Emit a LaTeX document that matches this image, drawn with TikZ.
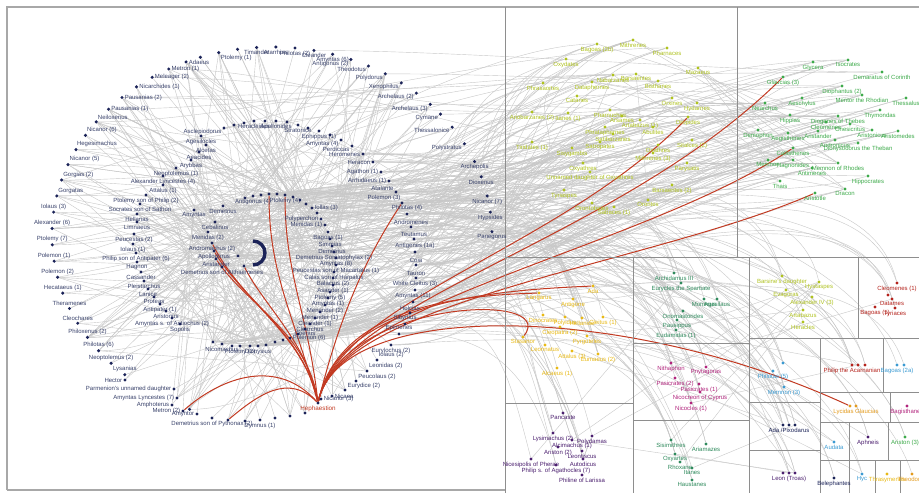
\documentclass[tikz,border=0pt]{standalone}
\usepackage{fontspec}
\setmainfont{Liberation Sans}
\usetikzlibrary{calc}
\definecolor{navy}{HTML}{1B2358}
\definecolor{labc}{HTML}{39426B}
\definecolor{edgec}{HTML}{C8C8C8}
\definecolor{redc}{HTML}{C23A22}
\definecolor{boxc}{HTML}{8E8E8E}
\definecolor{framec}{HTML}{A8A8A8}
\definecolor{ygc}{HTML}{AFC21E}
\definecolor{gc}{HTML}{3DAA4A}
\definecolor{yoc}{HTML}{E8B915}
\definecolor{tc}{HTML}{2E8A5C}
\definecolor{mc}{HTML}{B1237C}
\definecolor{pc}{HTML}{4A1E6E}
\definecolor{rc}{HTML}{B4221B}
\definecolor{bc}{HTML}{3A9AD2}
\definecolor{oc}{HTML}{E39A1C}
\pgfdeclarelayer{bgw}
\pgfdeclarelayer{edges}
\pgfdeclarelayer{redl}
\pgfsetlayers{bgw,edges,redl,main}
\begin{document}
\begin{tikzpicture}[x=1pt,y=-1pt,
  dot/.style={circle,fill=navy,inner sep=0pt,minimum size=3.4pt},
  lab/.style={font=\fontsize{6}{7}\selectfont,text=labc,inner sep=0.3pt},
  edge/.style={draw=edgec,line width=0.4pt},
  redge/.style={draw=redc,line width=1pt},
  panel/.style={draw=boxc,line width=0.7pt},
  framel/.style={draw=framec,line width=1.2pt},
  label distance=0.4pt]
\useasboundingbox (0,0) rectangle (919,493);
\begin{pgfonlayer}{bgw}
\fill[white] (0,0) rectangle (919,493);
\end{pgfonlayer}

% ---------- panels ----------
\draw[framel] (7,490) -- (7,7) -- (919,7);
\draw[framel] (7,490) -- (505,490);
\draw[panel] (505,7) -- (505,493);
\draw[panel] (737,7) -- (737,257);
\draw[panel] (505,257) -- (919,257);
\draw[panel] (633,257) -- (633,493);
\draw[panel] (749,257) -- (749,493);
\draw[panel] (505,403) -- (633,403);
\draw[panel] (633,343) -- (749,343);
\draw[panel] (633,420) -- (749,420);
\draw[panel] (858,257) -- (858,338);
\draw[panel] (749,338) -- (919,338);
\draw[panel] (820,338) -- (820,493);
\draw[panel] (749,402) -- (820,402);
\draw[panel] (749,450) -- (820,450);
\draw[panel] (883,338) -- (883,392);
\draw[panel] (820,392) -- (919,392);
\draw[panel] (890,392) -- (890,422);
\draw[panel] (820,422) -- (919,422);
\draw[panel] (849,422) -- (849,493);
\draw[panel] (888,422) -- (888,460);
\draw[panel] (820,460) -- (919,460);
\draw[panel] (875,460) -- (875,493);
\draw[panel] (900,460) -- (900,493);

% ---------- outer ring ----------
\foreach \th/\t/\p [count=\i] in {
 1/Panegorus/270, 7/Hypsides/270, 12/{Nicanor (7)}/270, 18/Dioxenus/270, 23/Archepolis/270,
 29/Polystratus/190, 35/Thessalonice/190, 40/Cymane/200, 44/{Archelaus (3)}/200, 49/{Archelaus (2)}/200,
 54/Xenophilus/200, 59/Polydorus/200, 64/Theodotus/200, 69/{Antigonus (2)}/200, 74/{Amyntas (6)}/270,
 79/Cleander/270, 84/{Philotas (2)}/270, 89/Atarrhias/270, 94/Timander/270, 99/{}/270,
 104/{Ptolemy (1)}/315, 109/{}/270, 113/Adaeus/0, 118/{Metron (1)}/0, 123/{Meleager (2)}/0,
 128/{Nicarchides (1)}/0, 133/{Pausanias (2)}/0, 138/{Pausanias (1)}/0, 143/Neiloxenus/60, 148/{Nicanor (6)}/60,
 153/Hegesimachus/75, 158/{Nicanor (5)}/60, 163/{Gorgias (2)}/60, 168/Gorgatas/60, 173/{Iolaus (3)}/90,
 178/{Alexander (6)}/90, 183/{Ptolemy (7)}/90, 188/{Polemon (1)}/90, 193/{Polemon (2)}/90, 198/{Hecataeus (1)}/90,
 203/Theramenes/90, 208/Cleochares/90, 213/{Philoxenus (2)}/90, 218/{Philotas (6)}/90, 223/{Neoptolemus (2)}/90,
 228/Lysanias/90, 248/{}/90}
  \node[dot,label={[lab]\p:\t}] (O\i) at ({272+220*cos(\th)},{235-188*sin(\th)}) {};

% ---------- middle ring ----------
\foreach \x/\y/\t/\p [count=\i] in {
 363/154/Heromenes/180, 373/162/Heracon/180, 381/172/{Agathon (1)}/180, 389/181/{Arrhidaeus (1)}/180,
 396/192/Atalante/150, 402/203/{Polemon (3)}/120, 407/214/{Philotas (4)}/90, 411/227/Andromenes/90,
 414/239/Teutamus/90, 415/252/{Antigenes (1a)}/90, 416/265/Coia/90, 416/278/Tauron/90,
 415/290/{White Cleitus (3)}/90, 413/302/{Amyntas (11)}/90, 410/313/Holcias/90, 405/324/Sibyrtius/90,
 399/334/Epimenes/90, 391/345/{Eurylochus (2)}/270, 377/360/{Iolaus (2)}/60, 367/371/{Leonidas (2)}/45,
 356/381/{Peucolaus (2)}/30, 345/390/{Eurydice (2)}/15, 332/396/Nicaea/0, 321/399/{Nicanor (3)}/0,
 224/128/Asclepiodorus/200, 234/125/{}/90, 244/123/{}/90, 254/121/Heracleides/270, 265/121/{}/90,
 276/121/Apollonides/270, 287/122/{}/90, 298/125/Stratonice/270, 308/128/{}/90, 319/131/{Ephippus (1)}/270,
 330/135/{}/90, 341/140/{Amyntas (4)}/200, 352/146/Perdiccas/200}
  \node[dot,label={[lab]\p:\t}] (M\i) at (\x,\y) {};

\foreach \x/\y/\t [count=\i] in {
 201/136/Agesilocles, 206/145/Alcetas, 199/152/Aeacides, 191/160/Arybbas, 176/168/{Neoptolemus (1)},
 163/176/{Alexander Lyncestes (4)}, 163/185/{Attalus (1)}, 146/195/{Ptolemy son of Philip (2)},
 140/204/{Socrates son of Sathon}, 137/214/Hellanas, 137/222/Limnaeus, 134/234/{Peucestas (2)},
 133/244/{Iolaus (1)}, 136/253/{Philip son of Antipater (6)}, 137/262/Hagnon, 141/272/Cassander,
 144/281/Pleistarchus, 148/289/Lanice, 154/297/Proteas, 160/304/{Antipater (1)}, 166/311/Aristonus,
 172/318/{Amyntas s. of Antiochus (2)}, 180/324/Sopolis}
  \node[dot,label={[lab]270:\t}] (W\i) at (\x,\y) {};

% ---------- inner ring ----------
\foreach \x/\y/\t/\p [count=\i] in {
 245/198/{}/90, 253/196/{Antigonus (4)}/270, 261/195/{}/90, 269/194/{}/90, 277/194/{}/90,
 285/195/{Ptolemy (4)}/270, 293/197/{}/90, 300/200/{}/0, 306/204/{}/0, 312/208/{Iollas (3)}/0,
 317/213/{}/0, 321/219/Polyperchon/180, 325/225/{Menidas (1)}/180, 328/232/{Bagoas (1)}/270,
 330/239/Simmias/270, 332/246/Demetrius/270, 334/252/{Demetrius Somatophylax (2)}/270,
 336/258/{Amyntas (8)}/270, 336/265/{Peucestas son of Macartatus (1)}/270, 334/272/{Calas son of Harpalus}/270,
 333/278/{Balacrus (2)}/270, 333/285/{Asander (1)}/270, 330/292/{Ptolemy (5)}/270, 328/298/{Amyntas (1)}/270,
 325/305/{Menander (2)}/270, 320/312/{Menander (1)}/270, 315/318/{Cleander (1)}/270, 310/324/Clearchus/270,
 305/329/Coenus/270, 298/334/{}/270, 290/338/{Polemon (6)}/0, 283/340/{}/90, 275/342/{}/90,
 266/345/{}/90, 258/346/Dionysius/270, 250/346/{}/90, 240/346/{Ptolemy (2)}/270, 232/346/{}/90,
 222/344/Nicomachus/270, 213/342/{}/90}
  \node[dot,label={[lab]\p:\t}] (I\i) at (\x,\y) {};

\foreach \x/\y/\t [count=\i] in {
 223/206/Demetrius, 194/210/Amyntas, 215/222/Cebalinus, 208/232/{Menidas (2)}, 212/243/{Andromachus (2)},
 214/251/Apollodorus, 216/259/Aristander, 222/267/{Demetrius son of Althaemenes}, 238/256/{}, 244/266/{}}
  \node[dot,label={[lab]270:\t}] (C\i) at (\x,\y) {};

\foreach \x/\y/\t/\p [count=\i] in {
 125/380/Hector/180, 174/389/{Parmenion's unnamed daughter}/180, 177/398/{Amyntas Lyncestes (7)}/180,
 172/405/Amphoterus/180, 183/411/{Metron (2)}/180, 197/414/Amyntor/180,
 212/418/{Demetrius son of Pythonax (2)}/270, 228/420/{}/270, 245/421/{}/270, 260/420/{Dymnus (1)}/270,
 275/418/{}/270, 290/416/{}/270, 305/413/{}/270}
  \node[dot,label={[lab]\p:\t}] (B\i) at (\x,\y) {};

\draw[navy,line width=3.4pt] (253,241) arc[start angle=-90,end angle=90,radius=12];
\node[dot,label={[lab,text=redc,font=\fontsize{6.3}{7}\selectfont]270:Hephaestion}] (H) at (318,403) {};

% ---------- upper right panels ----------
\foreach \x/\y/\t/\c [count=\i] in {
 597/44/{Bagoas (2b)}/ygc, 633/40/Mithrenes/ygc, 667/48/Pharnaces/ygc, 566/59/Oxydates/ygc, 698/68/Mazaeus/ygc,
 613/75/Nabarzanes/ygc, 636/74/Barsaentes/ygc, 592/82/Dataphernes/ygc, 543/83/Phrasaortes/ygc, 658/81/Bisthanes/ygc,
 577/96/Catanes/ygc, 672/98/Orxines/ygc, 697/103/Hydarnes/ygc, 532/112/{Ariobarzanes (2)}/ygc, 568/113/{Itanes (1)}/ygc,
 610/110/Pharnuches/ygc, 622/116/Arsames/ygc, 640/120/{Artabazus (1)}/ygc, 605/127/Phrataphernes/ygc,
 613/134/Satibarzanes/ygc, 600/142/Satropates/ygc, 653/127/Abulites/ygc, 532/142/{Tiridates (1)}/ygc,
 658/145/Oxathres/ygc, 692/140/{Sitalces (2)}/ygc, 572/148/Sisygambis/ygc, 653/153/{Mithrenes (3)}/ygc,
 583/163/Oxyathres/ygc, 687/163/Parysatis/ygc, 590/172/{Unnamed daughter of Oxyathres}/ygc,
 672/185/{Barsaentes (2)}/ygc, 564/190/Tyriaspes/ygc, 648/200/Orontes/ygc, 592/203/Orontobates/ygc,
 614/207/{Sabaces (1)}/ygc,
 813/62/Glycera/gc, 848/60/Isocrates/gc, 882/72/{Demaratus of Corinth}/gc, 842/86/{Diophantus (2)}/gc,
 802/98/Aeschylus/gc, 862/95/{Mentor the Rhodian}/gc, 906/98/Thessalus/gc, 765/103/Nearchus/gc,
 880/110/Thymondas/gc, 790/115/Hippias/gc, 838/116/{Diogenes of Thebes}/gc, 850/124/Onesicritus/gc,
 826/122/Cleomenes/gc, 872/130/Aristonicus/gc, 898/131/Aristomedes/gc, 758/130/Demophon/gc,
 788/133/Aegisthenes/gc, 818/131/Aristander/gc, 835/140/Andronicus/gc, 858/143/{Dionysodorus the Theban}/gc,
 768/160/Memnon/gc, 793/160/Hagnonides/gc, 838/163/{Memnon of Rhodes}/gc, 812/168/Antimenes/gc,
 868/176/Hippocrates/gc, 780/181/Thais/gc, 845/189/Dracon/gc}
  \node[dot,fill=\c,label={[lab,text=\c]270:\t}] (U\i) at (\x,\y) {};

% ---------- lower right panels ----------
\foreach \x/\y/\t/\c [count=\i] in {
 573/299/Antigone/yoc, 543/315/Dinocrates/yoc, 565/317/Polyidus/yoc, 582/318/Hellanice/yoc, 603/317/{Cleitus (1)}/yoc,
 560/327/{Cleopatra (2)}/yoc, 587/336/Pyrgoteles/yoc, 545/345/Leonnatus/yoc, 572/351/{Attalus (3)}/yoc,
 598/354/{Eumaeus (2)}/yoc, 557/368/{Alcaeus (1)}/yoc,
 674/273/{Archidamus III}/tc, 681/283/{Eurycles the Spartiate}/tc, 704/299/Monimus/tc, 717/299/Agesilaus/tc,
 683/311/Onomastorides/tc, 677/320/Pausippus/tc, 676/330/{Eudamidas (1)}/tc,
 671/363/Nithaphon/mc, 706/367/Pnytagoras/mc, 675/378/{Pasicrates (2)}/mc, 699/384/{Pasicrates (1)}/mc,
 700/392/{Nicocreon of Cyprus}/mc, 691/403/{Nicocles (1)}/mc,
 671/440/Sisimithres/tc, 706/444/Ariamazes/tc, 675/454/Oxyartes/tc, 680/462/Rhoxane/tc, 692/468/Itanes/tc,
 692/480/Haustanes/tc,
 563/413/Pancaste/pc, 553/433/{Lysimachus (2)}/pc, 592/436/Polydamas/pc, 572/440/{Alcimachus (1)}/pc,
 558/447/{Ariston (2)}/pc, 582/451/Leontiscus/pc, 531/459/{Nicesipolis of Pherae}/pc, 583/459/Autodicus/pc,
 556/465/{Philip s. of Agathocles (7)}/pc, 582/475/{Philine of Larissa}/pc,
 782/276/{Barsine's daughter}/ygc, 819/282/Hystaspes/ygc, 786/290/Evagoras/ygc, 812/297/{Alexander IV (3)}/ygc,
 803/310/Artabazus/ygc, 803/322/Heracles/ygc,
 897/283/{Cleomenes (1)}/rc, 888/295/{}/rc, 892/299/Datames/rc, 875/307/{Bagoas (1)}/rc, 895/308/Tyriaces/rc,
 852/365/{Philip the Acarnanian}/rc, 858/365/{}/rc, 865/365/{}/rc,
 897/365/{Bagoas (2a)}/bc, 904/365/{}/bc,
 783/363/{}/bc, 773/371/{Philotas (5)}/bc, 784/387/{Memnon (3)}/bc,
 907/406/Bagisthanes/mc,
 783/425/{}/navy, 789/425/{Ada /Pixodarus}/navy, 795/425/{}/navy,
 783/473/{}/pc, 789/473/{Leon (Troas)}/pc, 795/473/{}/pc,
 834/442/Audata/bc, 868/437/Aphneis/pc, 905/437/{Ariston (3)}/gc,
 834/478/Belephantes/navy, 862/474/Hyc/bc, 887/474/Thrasymenes/yoc, 912/474/Theodorus/oc}
  \node[dot,fill=\c,label={[lab,text=\c]270:\t}] (D\i) at (\x,\y) {};

% named red targets
\node[dot,fill=ygc,label={[lab,text=ygc]270:Dropides}] (dropides) at (688,117) {};
\node[dot,fill=gc,label={[lab,text=gc]270:{Glaucias (3)}}] (glaucias) at (783,77) {};
\node[dot,fill=gc,label={[lab,text=gc]270:Callisthenes}] (callisthenes) at (793,148) {};
\node[dot,fill=gc,label={[lab,text=gc]270:Aristotle}] (aristotle) at (815,193) {};
\node[dot,fill=oc] (lycidas) at (850,406) {};
\node[dot,fill=oc,label={[lab,text=oc]270:{Lycidas Glaucias}}] (glaucus) at (856,406) {};
\node[dot,fill=yoc,label={[lab,text=yoc]270:Stasanor}] (stasanor) at (523,337) {};
\node[dot,fill=yoc,label={[lab,text=yoc]270:Langarus}] (langarus) at (539,293) {};
\node[dot,fill=yoc,label={[lab,text=yoc]270:Ada}] (ada) at (593,286) {};

% ---------- grey edges ----------
\begin{pgfonlayer}{edges}
\pgfmathsetseed{2024}
\foreach \k in {1,...,110}{\pgfmathtruncatemacro\sA{random(1,47)}\pgfmathtruncatemacro\sB{random(1,40)}\draw[edge] (O\sA) -- (I\sB);}
\foreach \k in {1,...,40}{\pgfmathtruncatemacro\sA{random(1,47)}\pgfmathtruncatemacro\sB{random(1,10)}\draw[edge] (O\sA) -- (C\sB);}
\foreach \k in {1,...,45}{\pgfmathtruncatemacro\sA{random(1,23)}\pgfmathtruncatemacro\sB{random(1,40)}\draw[edge] (W\sA) -- (I\sB);}
\foreach \k in {1,...,30}{\pgfmathtruncatemacro\sA{random(1,23)}\pgfmathtruncatemacro\sB{random(1,10)}\draw[edge] (W\sA) -- (C\sB);}
\foreach \k in {1,...,60}{\pgfmathtruncatemacro\sA{random(1,37)}\pgfmathtruncatemacro\sB{random(1,40)}\draw[edge] (M\sA) -- (I\sB);}
\foreach \k in {1,...,25}{\pgfmathtruncatemacro\sA{random(1,13)}\pgfmathtruncatemacro\sB{random(1,40)}\draw[edge] (B\sA) -- (I\sB);}
\foreach \k in {1,...,10}{\pgfmathtruncatemacro\sA{random(1,13)}\pgfmathtruncatemacro\sB{random(1,10)}\draw[edge] (B\sA) -- (C\sB);}
\foreach \k in {1,...,25}{\pgfmathtruncatemacro\sA{random(1,47)}\pgfmathtruncatemacro\sB{random(1,37)}\draw[edge] (O\sA) -- (M\sB);}
\foreach \k in {1,...,40}{\pgfmathtruncatemacro\sA{random(1,10)}\pgfmathtruncatemacro\sB{random(1,40)}\draw[edge] (C\sA) -- (I\sB);}
\foreach \k in {1,...,80}{\pgfmathtruncatemacro\sA{random(1,40)}\pgfmathtruncatemacro\sB{random(1,62)}\draw[edge] (I\sA) .. controls +(170,0) and +(-170,40) .. (U\sB);}
\foreach \k in {1,...,60}{\pgfmathtruncatemacro\sA{random(1,18)}\pgfmathtruncatemacro\sB{random(1,62)}\draw[edge] (M\sA) .. controls +(130,0) and +(-150,40) .. (U\sB);}
\foreach \k in {1,...,30}{\pgfmathtruncatemacro\sA{random(1,10)}\pgfmathtruncatemacro\sB{random(1,62)}\draw[edge] (C\sA) .. controls +(180,0) and +(-160,50) .. (U\sB);}
\foreach \k in {1,...,60}{\pgfmathtruncatemacro\sA{random(1,40)}\pgfmathtruncatemacro\sB{random(1,73)}\draw[edge] (I\sA) .. controls +(170,-20) and +(-40,-160) .. (D\sB);}
\foreach \k in {1,...,35}{\pgfmathtruncatemacro\sA{random(1,18)}\pgfmathtruncatemacro\sB{random(1,73)}\draw[edge] (M\sA) .. controls +(130,-10) and +(-50,-150) .. (D\sB);}
\foreach \k in {1,...,15}{\pgfmathtruncatemacro\sA{random(1,10)}\pgfmathtruncatemacro\sB{random(1,73)}\draw[edge] (C\sA) .. controls +(170,-20) and +(-40,-160) .. (D\sB);}
\foreach \k in {1,...,25}{\pgfmathtruncatemacro\sA{random(1,47)}\pgfmathtruncatemacro\sB{random(1,62)}\draw[edge] (O\sA) .. controls +(150,0) and +(-150,0) .. (U\sB);}
\foreach \k in {1,...,40}{\pgfmathtruncatemacro\sA{random(1,31)}\pgfmathtruncatemacro\sB{random(32,62)}\draw[edge] (U\sA) -- (U\sB);}
\foreach \k in {1,...,25}{\pgfmathtruncatemacro\sA{random(1,36)}\pgfmathtruncatemacro\sB{random(37,73)}\draw[edge] (D\sA) -- (D\sB);}
\end{pgfonlayer}

% ---------- red edges ----------
\begin{pgfonlayer}{redl}
\draw[redge] (H) .. controls +(-15,-70) and +(30,60) .. (C5);
\draw[redge] (H) .. controls +(-15,-70) and +(30,50) .. (C6);
\draw[redge] (H) .. controls +(-10,-70) and +(30,45) .. (C7);
\draw[redge] (H) .. controls +(-10,-60) and +(20,40) .. (C10);
\draw[redge] (H) .. controls +(-25,-90) and +(0,80) .. (I4);
\draw[redge] (H) .. controls +(-10,-90) and +(0,80) .. (I6);
\draw[redge] (H) .. controls +(20,-80) and +(-40,60) .. (M6);
\draw[redge] (H) .. controls +(-40,-45) and +(40,-35) .. (B5);
\draw[redge] (H) .. controls +(-30,-30) and +(30,-25) .. (B8);
\draw[redge] (H) .. controls (340,300) and (620,240) .. (glaucias);
\draw[redge] (H) .. controls (340,300) and (560,250) .. (dropides);
\draw[redge] (H) .. controls (340,300) and (640,250) .. (callisthenes);
\draw[redge] (H) .. controls (340,300) and (650,265) .. (aristotle);
\draw[redge] (H) .. controls (340,300) and (620,300) .. (lycidas);
\draw[redge] (H) .. controls (340,300) and (560,290) .. (stasanor);
\draw[redge] (H) .. controls (340,300) and (480,295) .. (langarus);
\draw[redge] (H) .. controls (340,300) and (500,290) .. (ada);
\end{pgfonlayer}
\end{tikzpicture}
\end{document}
